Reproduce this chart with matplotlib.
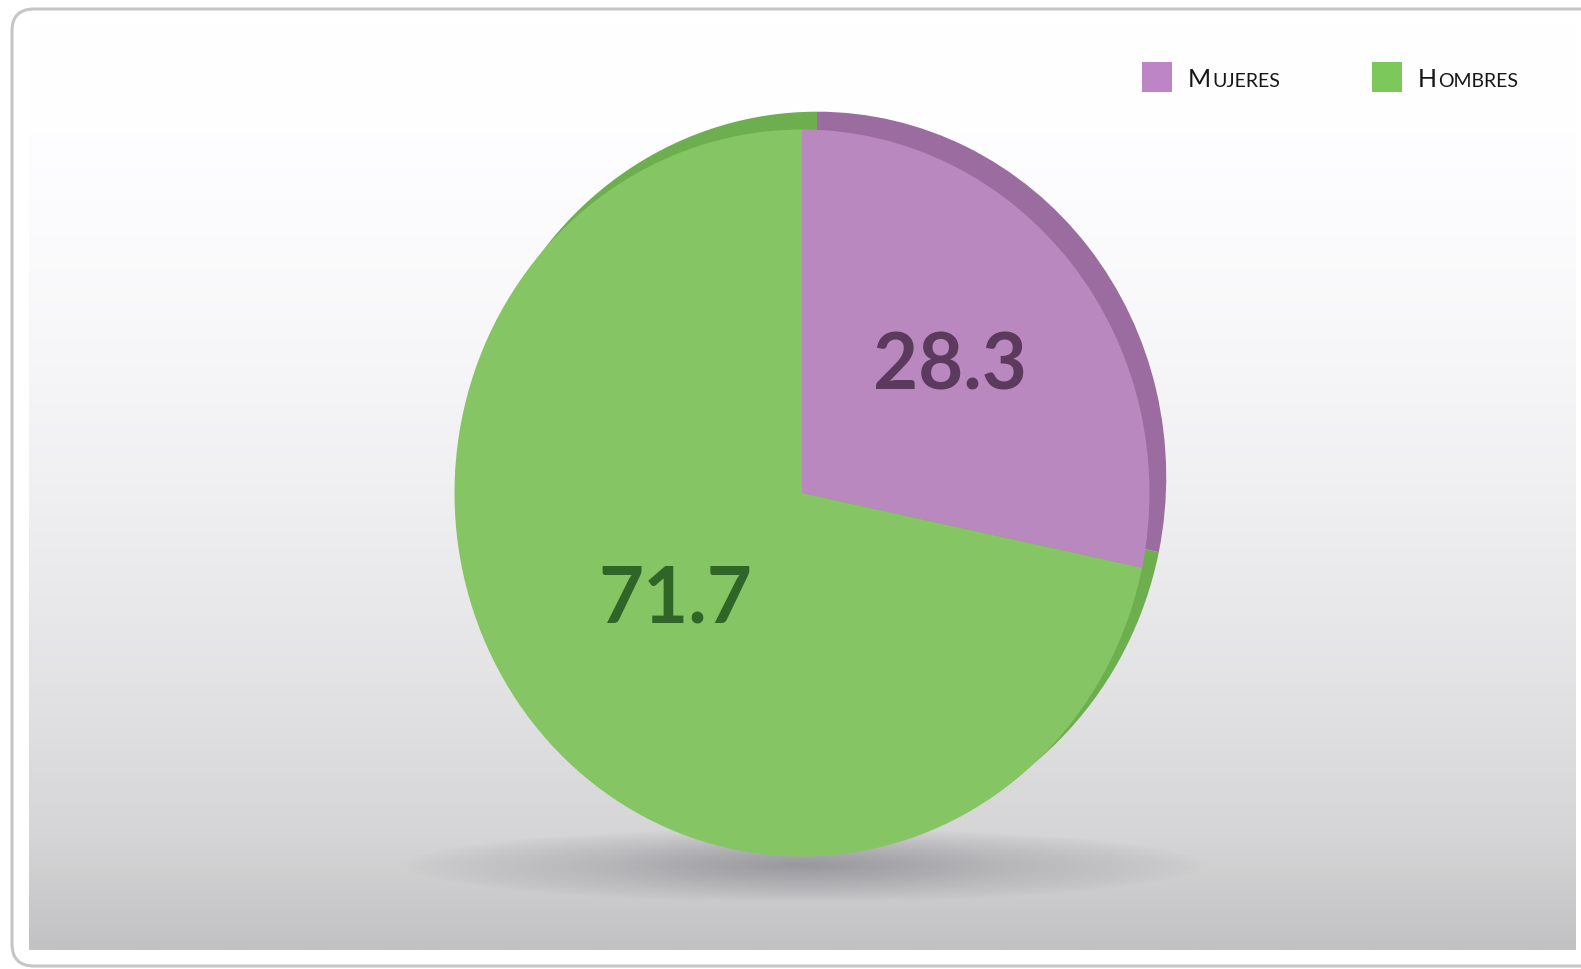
import matplotlib

matplotlib.use("Agg")
import matplotlib.pyplot as plt
import numpy as np
from matplotlib.patches import FancyBboxPatch, Rectangle

# Share of workers by sex (%)
labels = ["Mujeres", "Hombres"]
values = [28.3, 71.7]

face_colors = ["#B988BE", "#86C563"]
rim_colors = ["#9A6C9F", "#6DAE4F"]
text_colors = ["#5B3A5E", "#2F6627"]
swatch_colors = ["#BD84C6", "#7DC85A"]

W, H = 1581, 969

fig = plt.figure(figsize=(W / 100, H / 100), dpi=100)
fig.patch.set_facecolor("white")

# Background axis in pixel coordinates (y down)
bg = fig.add_axes([0, 0, 1, 1])
bg.set_xlim(0, W)
bg.set_ylim(H, 0)
bg.axis("off")

# Rounded outer frame
frame = FancyBboxPatch(
    (12, 9), 1620, 957, boxstyle="round,pad=0,rounding_size=22",
    facecolor="white", edgecolor="#c6c6c6", linewidth=2.2, zorder=0,
)
bg.add_patch(frame)

# Vertical gradient panel: white at the top, light grey at the bottom
ys = np.linspace(0, 1, 400)
stops_y = [0.0, 0.12, 0.3, 0.5, 0.7, 0.88, 1.0]
stops_c = [255, 254, 249, 240, 228, 213, 194]
shade = np.interp(ys, stops_y, stops_c) / 255.0
blue = np.clip(shade + 0.006, 0, 1)
grad = np.dstack([shade, shade, blue])
grad = np.repeat(grad.reshape(-1, 1, 3), 2, axis=1)
bg.imshow(grad, extent=[29, 1576, 950, 22], aspect="auto", zorder=1, interpolation="bilinear")

# Soft shadow under the pie
sx, sy = np.meshgrid(np.linspace(-1, 1, 600), np.linspace(-1, 1, 120))
r = np.sqrt(sx ** 2 + sy ** 2)
alpha = np.clip(1 - r, 0, 1) ** 0.8 * 0.42 + np.clip(1 - np.sqrt((sx / 0.5) ** 2 + sy ** 2), 0, 1) * 0.12
shadow = np.zeros((120, 600, 4))
shadow[..., :3] = np.array([105, 105, 112]) / 255.0
shadow[..., 3] = np.clip(alpha, 0, 1)
bg.imshow(shadow, extent=[403, 1205, 902, 828], aspect="auto", zorder=2, interpolation="bilinear")

# Pie axes: slightly taller than wide
cx, cy, rx, ry = 802, 493, 347.5, 363.5
pad = 1.2
pax = fig.add_axes([
    (cx - pad * rx) / W, (H - cy - pad * ry) / H,
    2 * pad * rx / W, 2 * pad * ry / H,
])

# darker back copy gives the rim
pax.pie(values, colors=rim_colors, startangle=90, counterclock=False,
        center=(15 / rx, 16 / ry), radius=1.005, wedgeprops=dict(linewidth=0))
wedges, _ = pax.pie(values, colors=face_colors, startangle=90, counterclock=False,
                    wedgeprops=dict(linewidth=0))
pax.set_aspect("auto")
pax.set_xlim(-pad, pad)
pax.set_ylim(-pad, pad)
pax.axis("off")

label_radius = [0.55, 0.47]
for w, v, col, lr in zip(wedges, values, text_colors, label_radius):
    ang = np.deg2rad((w.theta1 + w.theta2) / 2)
    pax.text(lr * np.cos(ang), lr * np.sin(ang), f"{v:.1f}", ha="center", va="center",
             fontsize=56, fontweight="bold", family="Lato", color=col)

# Legend with small-caps labels
fig.canvas.draw()
renderer = fig.canvas.get_renderer()
legend_x = [1142, 1372]
for lab, sw, x0 in zip(labels, swatch_colors, legend_x):
    bg.add_patch(Rectangle((x0, 62), 30, 30, facecolor=sw, edgecolor="none", zorder=5))
    t = bg.text(x0 + 46, 87, lab[0].upper(), fontsize=18, family="Lato",
                color="#161616", va="baseline", ha="left", zorder=5)
    bb = t.get_window_extent(renderer)
    bg.text(bb.x1 + 1.5, 87, lab[1:].upper(), fontsize=14, family="Lato",
            color="#161616", va="baseline", ha="left", zorder=5)

fig.savefig("out.png", dpi=100)
